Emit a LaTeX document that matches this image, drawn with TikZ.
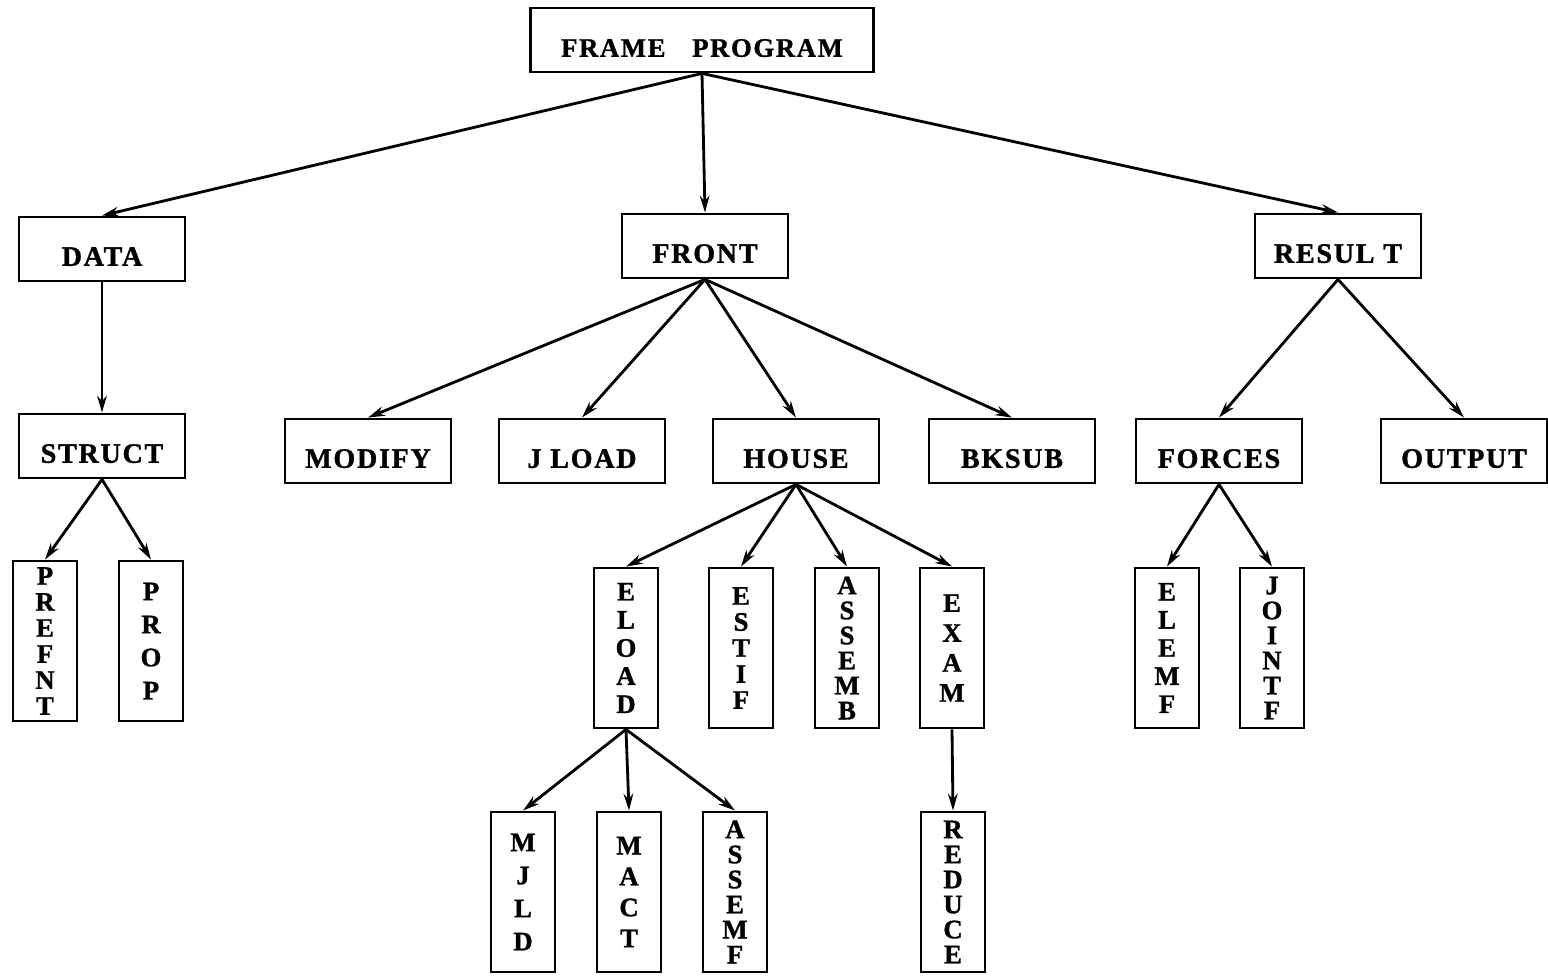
\documentclass[tikz,border=0pt]{standalone}
\usepackage{fontspec}
\setmainfont{Liberation Serif}[LetterSpace=6, BoldFeatures={FakeBold=1.2}]
\usetikzlibrary{arrows.meta, positioning}

\tikzset{
  module/.style={draw, line width=2pt, rectangle, inner sep=2pt},
  hbox/.style={module, minimum width=4.15cm, minimum height=1.6cm,
    text height=0.84cm, text depth=0pt,
    font=\bfseries\fontsize{20}{22}\selectfont},
  vbox/.style={module, minimum width=1.6cm, minimum height=4cm, align=center,
    font=\bfseries\fontsize{19}{#1}\selectfont},
  vbox/.default=18.5,
  call/.style={->, line width=2pt},
}

\begin{document}
\begin{tikzpicture}[x=0.025cm, y=-0.025cm, >={Stealth[length=0.42cm, width=0.24cm]}]
      \useasboundingbox (0,0) rectangle (1548,978);

      % main program and first level
      \node[hbox, minimum width=8.575cm, font=\bfseries\fontsize{19}{22}\selectfont] (frame) at (702,40) {FRAME\quad PROGRAM};
      \node[hbox] (data) at (102,249) {DATA};
      \node[hbox] (front) at (705,246) {FRONT};
      \node[hbox] (result) at (1338,246) {RESUL T};

      % second level
      \node[hbox] (struct) at (102,446) {STRUCT};
      \node[hbox] (modify) at (368,451) {MODIFY};
      \node[hbox] (jload) at (582,451) {J LOAD};
      \node[hbox] (house) at (796,451) {HOUSE};
      \node[hbox] (bksub) at (1012,451) {BKSUB};
      \node[hbox] (forces) at (1219,451) {FORCES};
      \node[hbox] (output) at (1464,451) {OUTPUT};

      % third level
      \node[vbox] (prefnt) at (45,641) {P\\R\\E\\F\\N\\T};
      \node[vbox=23.5] (prop) at (151,641) {P\\R\\O\\P};
      \node[vbox=20] (eload) at (626,648) {E\\L\\O\\A\\D};
      \node[vbox] (estif) at (741,648) {E\\S\\T\\I\\F};
      \node[vbox=17.8] (assemb) at (847,648) {A\\S\\S\\E\\M\\B};
      \node[vbox=21.3] (exam) at (952,648) {E\\X\\A\\M};
      \node[vbox=20] (elemf) at (1167,648) {E\\L\\E\\M\\F};
      \node[vbox=17.8] (jointf) at (1272,648) {J\\O\\I\\N\\T\\F};

      % fourth level
      \node[vbox=23.5] (mjld) at (523,892) {M\\J\\L\\D};
      \node[vbox=22] (mact) at (629,892) {M\\A\\C\\T};
      \node[vbox=17.8] (assemf) at (735,892) {A\\S\\S\\E\\M\\F};
      \node[vbox=17.8] (reduce) at (953,892) {R\\E\\D\\U\\C\\E};

      \draw[call] (frame.south) -- (data.north);
      \draw[call] (frame.south) -- (front.north);
      \draw[call] (frame.south) -- (result.north);

      \draw[call] (data.south) -- (struct.north);
      \draw[call] (struct.south) -- (prefnt.north);
      \draw[call] (struct.south) -- (prop.north);

      \draw[call] (front.south) -- (modify.north);
      \draw[call] (front.south) -- (jload.north);
      \draw[call] (front.south) -- (house.north);
      \draw[call] (front.south) -- (bksub.north);

      \draw[call] (house.south) -- (eload.north);
      \draw[call] (house.south) -- (estif.north);
      \draw[call] (house.south) -- (assemb.north);
      \draw[call] (house.south) -- (exam.north);

      \draw[call] (eload.south) -- (mjld.north);
      \draw[call] (eload.south) -- (mact.north);
      \draw[call] (eload.south) -- (assemf.north);
      \draw[call] (exam.south) -- (reduce.north);

      \draw[call] (result.south) -- (forces.north);
      \draw[call] (result.south) -- (output.north);
      \draw[call] (forces.south) -- (elemf.north);
      \draw[call] (forces.south) -- (jointf.north);

    \end{tikzpicture}
\end{document}
